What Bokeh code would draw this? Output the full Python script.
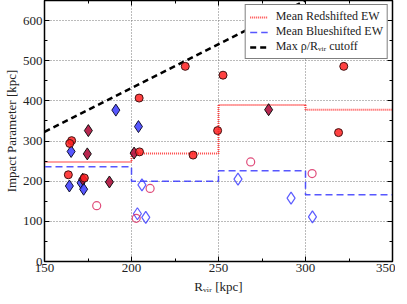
from bokeh.plotting import figure
from bokeh.models import LinearAxis, Range1d, FixedTicker
from bokeh.embed import file_html
from bokeh.resources import INLINE

# --- data ---
red_x = [165.6, 164.5, 163.7, 172.9, 204.6, 204.4, 230.9, 235.4, 249.5, 252.6, 319.0, 322.0]
red_y = [301, 294, 216, 208, 273, 407, 486, 265, 326, 464, 321, 486]

crim_x = [175.2, 174.6, 172.0, 187.3, 201.5, 278.8]
crim_y = [326, 268, 205, 198, 270, 378]

blue_x = [165.3, 171.0, 164.3, 172.5, 191.0, 204.0]
blue_y = [274, 196, 188, 180, 377, 336]

oblue_x = [206.0, 203.4, 208.2, 261.2, 291.7, 304.0]
oblue_y = [191, 119, 110, 205, 158, 111]

ored_x = [180.0, 210.7, 202.7, 268.5, 303.8]
ored_y = [139, 182, 107.5, 248, 219]

bin_edges = [150, 200, 250, 300, 350]
red_mean = [248, 269, 390, 378]
blue_mean = [236, 200, 226, 166]

cutoff_x = [150, 300]
cutoff_y = [323, 650]

x_ticks = [150, 200, 250, 300, 350]
y_ticks = [0, 100, 200, 300, 400, 500, 600]

FONT = "Liberation Serif"

p = figure(width=395, height=296, x_range=Range1d(150, 350), y_range=Range1d(0, 650),
           output_backend="svg", toolbar_location=None,
           min_border_left=37, min_border_right=3, min_border_top=0, min_border_bottom=31)

p.background_fill_color = "white"
p.outline_line_color = "black"
p.outline_line_width = 1.5

# grid
for g in (p.xgrid, p.ygrid):
    g.grid_line_color = "#777777"
    g.grid_line_dash = "1 2"
    g.grid_line_width = 1

def style_axis(ax, labels=True):
    ax.major_tick_in = 5
    ax.major_tick_out = 0
    ax.minor_tick_in = 3
    ax.minor_tick_out = 0
    ax.axis_line_color = "black"
    ax.axis_line_width = 1
    ax.major_label_text_font = FONT
    ax.major_label_text_font_size = "13px" if labels else "1px"
    ax.major_label_text_color = "#222222" if labels else None
    ax.major_label_standoff = 2 if labels else 0
    ax.axis_label_text_font = FONT
    ax.axis_label_text_font_style = "normal"
    ax.axis_label_text_font_size = "13px"
    ax.axis_label_text_color = "#222222"

p.xaxis.ticker = FixedTicker(ticks=x_ticks, minor_ticks=list(range(150, 351, 25)))
p.yaxis.ticker = FixedTicker(ticks=y_ticks, minor_ticks=list(range(0, 651, 50)))
style_axis(p.xaxis[0])
style_axis(p.yaxis[0])
p.xaxis.axis_label = "Rᵥᵢᵣ [kpc]"
p.yaxis.axis_label = "Impact Parameter [kpc]"
p.xaxis.axis_label_standoff = 4
p.yaxis.axis_label_standoff = 1

ax_r = LinearAxis(ticker=FixedTicker(ticks=y_ticks, minor_ticks=list(range(0, 651, 50))))
style_axis(ax_r, labels=False)
p.add_layout(ax_r, "right")
ax_t = LinearAxis(ticker=FixedTicker(ticks=x_ticks, minor_ticks=list(range(150, 351, 25))))
style_axis(ax_t, labels=False)
p.add_layout(ax_t, "above")

# step lines
p.step(bin_edges, red_mean + [red_mean[-1]], mode="after", line_color="#ff3030",
       line_dash="1 1", line_width=2, line_alpha=0.9, legend_label="Mean Redshifted EW")
p.step(bin_edges, blue_mean + [blue_mean[-1]], mode="after", line_color="#3a3aff",
       line_dash="7 4", line_width=1.5, line_alpha=0.85, legend_label="Mean Blueshifted EW")
p.line(cutoff_x, cutoff_y, line_color="black", line_dash="6 4", line_width=2.5,
       legend_label="Max ρ/Rᵥᵢᵣ cutoff")

# markers
p.scatter(oblue_x, oblue_y, marker="diamond", size=12, fill_color=None,
          line_color="#4040ff", line_width=1.2, line_alpha=0.85)
p.scatter(ored_x, ored_y, marker="circle", size=8, fill_color=None,
          line_color="#d8205a", line_width=1.2, line_alpha=0.8)
p.scatter(blue_x, blue_y, marker="diamond", size=12, fill_color="#3a3aff", fill_alpha=0.85,
          line_color="#111133", line_width=1)
p.scatter(crim_x, crim_y, marker="diamond", size=12, fill_color="#b0103c", fill_alpha=0.9,
          line_color="#111111", line_width=1)
p.scatter(red_x, red_y, marker="circle", size=8, fill_color="#ff2020", fill_alpha=0.85,
          line_color="#441111", line_width=1)

# legend
lg = p.legend[0]
lg.location = "top_right"
lg.margin = 4
lg.padding = 4
lg.spacing = 0
lg.label_text_font = FONT
lg.label_text_font_size = "12px"
lg.label_text_color = "#222222"
lg.label_height = 14
lg.glyph_height = 14
lg.glyph_width = 18
lg.label_standoff = 8
lg.border_line_color = "black"
lg.border_line_width = 1
lg.background_fill_alpha = 1

open("out.html", "w").write(file_html(p, INLINE))
